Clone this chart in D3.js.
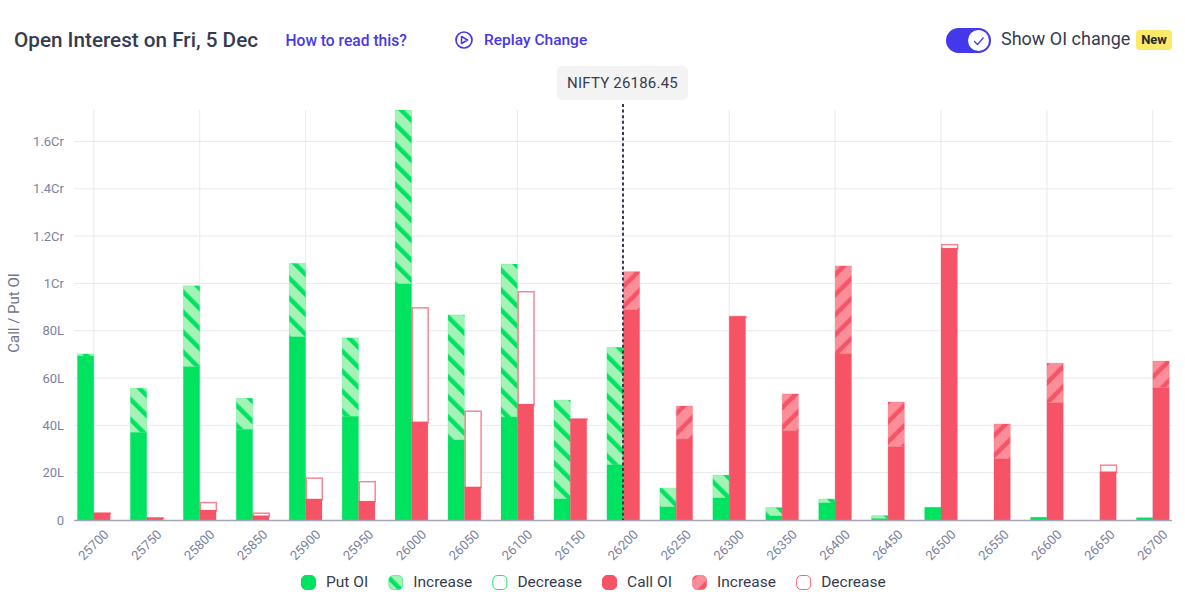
<!DOCTYPE html>
<html><head><meta charset="utf-8">
<script src="https://cdn.jsdelivr.net/npm/d3@7/dist/d3.min.js"></script>
<style>
html,body{margin:0;padding:0;background:#fff;overflow:hidden}
text{font-family:Roboto,sans-serif}
</style></head><body>
<svg id="c" width="1185" height="615" style="display:block"></svg>
<script>
const strikes=[25700,25750,25800,25850,25900,25950,26000,26050,26100,26150,26200,26250,26300,26350,26400,26450,26500,26550,26600,26650,26700];
// values in lakh: solid part, top of the stacked change part, and kind of change
const putBase=[69.3,37,64.8,38.3,77.4,43.8,99.8,33.8,43.5,8.9,23.3,5.5,9.3,1.7,7.2,0.6,5.4,0,1.2,0,1];
const putTop=[70.2,55.7,99,51.5,108.5,77,173.3,86.7,108.2,50.7,73,13.5,19,5.3,8.9,1.9,5.4,0,1.2,0,1];
const callBase=[3,1,4.2,1.8,8.9,8,41.5,14,49,42.7,88.8,34.2,86,37.6,70.2,31,114.9,25.9,49.6,20.4,55.9];
const callTop=[3.2,1.1,7.7,3.2,18,16.5,90,46.3,96.8,43,105,48.2,86.3,53.3,107.4,49.9,116.7,40.6,66.3,23.5,67.2];
const callKind=["dec","dec","dec","dec","dec","dec","dec","dec","dec","dec","inc","inc","dec","inc","inc","inc","dec","inc","inc","dec","inc"];
const yTicks=[0,20,40,60,80,100,120,140,160];
const yTickLabels=["0","20L","40L","60L","80L","1Cr","1.2Cr","1.4Cr","1.6Cr"];
const legendLabels=["Put OI","Increase","Decrease","Call OI","Increase","Decrease"];
const legendStyles=["putSolid","putInc","putDec","callSolid","callInc","callDec"];
const spotStrike=26200, spotLabel="NIFTY 26186.45";

const GREEN="#00e361",GREEN_L="#a3f3b6",RED="#f65366",RED_L="#fc8e99",BLUE="#4737ea",INK="#363b50";
const svg=d3.select("#c");
const defs=svg.append("defs");
function hatch(id,bg,fg,angle,u0){
  const p=defs.append("pattern").attr("id",id).attr("patternUnits","userSpaceOnUse")
    .attr("width",14.14).attr("height",14.14).attr("patternTransform",`rotate(${angle})`);
  p.append("rect").attr("width",14.14).attr("height",14.14).attr("fill",bg);
  p.append("rect").attr("x",u0).attr("width",4.4).attr("height",14.14).attr("fill",fg);
}
hatch("hG",GREEN_L,GREEN,-45,5.66);
hatch("hR",RED_L,RED,45,4.95);
defs.append("clipPath").attr("id","plot").append("rect").attr("x",60).attr("y",110).attr("width",1125).attr("height",412);

const x=d3.scalePoint().domain(strikes).range([93.8,1152.8]);
const y=d3.scaleLinear().domain([0,173.3]).range([520,110]);
const bw=16.4;

// grid
svg.append("g").selectAll("line").data(yTicks.slice(1)).join("line")
  .attr("x1",74).attr("x2",1172).attr("y1",d=>y(d)).attr("y2",d=>y(d))
  .attr("stroke","#e9e9f0");
svg.append("g").selectAll("line").data(strikes.filter((d,i)=>i%2===0)).join("line")
  .attr("x1",d=>x(d)).attr("x2",d=>x(d)).attr("y1",110).attr("y2",520)
  .attr("stroke","#e9e9f0");

const marks=svg.append("g").attr("clip-path","url(#plot)");
function series(base,top,kind,solid,pat,xOff){
  const rows=strikes.map((s,i)=>({s,base:base[i],top:top[i],kind:kind[i]}));
  const X=d=>x(d.s)+xOff;
  marks.append("g").selectAll("rect").data(rows.filter(d=>d.kind==="inc"&&d.top>d.base)).join("rect")
    .attr("x",X).attr("width",bw).attr("y",d=>y(d.top)).attr("height",d=>y(d.base)-y(d.top))
    .attr("fill",`url(#${pat})`).attr("stroke",solid).attr("stroke-opacity",.18);
  marks.append("g").selectAll("rect").data(rows.filter(d=>d.kind==="dec"&&d.top>d.base)).join("rect")
    .attr("x",d=>X(d)+.75).attr("width",bw-.5).attr("y",d=>y(d.top)+.75).attr("height",d=>y(d.base)-y(d.top))
    .attr("fill","#fff").attr("stroke",solid).attr("stroke-opacity",.7).attr("stroke-width",1.5);
  marks.append("g").selectAll("rect").data(rows.filter(d=>d.base>0)).join("rect")
    .attr("x",X).attr("width",bw).attr("y",d=>y(d.base)).attr("height",d=>y(0)-y(d.base))
    .attr("fill",solid).attr("stroke",solid).attr("stroke-opacity",.18);
}
series(putBase,putTop,strikes.map(()=>"inc"),GREEN,"hG",-bw);
series(callBase,callTop,callKind,RED,"hR",0);

// y axis
const yg=svg.append("g").attr("transform","translate(64,0)")
  .call(d3.axisLeft(y).tickValues(yTicks).tickSize(0).tickPadding(0).tickFormat((d,i)=>yTickLabels[i]));
yg.select(".domain").remove();
yg.selectAll("text").attr("font-size",13).attr("fill","#7c829d").style("font-family","Roboto,sans-serif");

// x axis
const xg=svg.append("g").attr("transform","translate(0,520)")
  .call(d3.axisBottom(x).tickSize(0).tickPadding(0).tickFormat(d=>d));
xg.select(".domain").remove();
xg.selectAll("text").attr("font-size",13).attr("fill","#7c829d").attr("text-anchor","end")
  .attr("x",0).attr("y",0).attr("dy","0.35em").attr("transform","translate(12,12) rotate(-45)")
  .style("font-family","Roboto,sans-serif");
svg.append("line").attr("x1",74).attr("x2",1172).attr("y1",520.5).attr("y2",520.5).attr("stroke","#a3a5b7").attr("stroke-width",1.5);

svg.append("text").attr("transform","translate(19,313) rotate(-90)").attr("text-anchor","middle")
  .attr("font-size",15).attr("fill","#6f7389").text("Call / Put OI");

// spot line + label
svg.append("line").attr("x1",623).attr("x2",623).attr("y1",104).attr("y2",520)
  .attr("stroke",INK).attr("stroke-width",2).attr("stroke-dasharray","3 2.6");
svg.append("rect").attr("x",557).attr("y",66).attr("width",131).attr("height",34).attr("rx",5).attr("fill","#f3f3f3");
svg.append("text").attr("x",622.5).attr("y",87.5).attr("text-anchor","middle").attr("font-size",15).attr("letter-spacing",.2).attr("fill",INK).text(spotLabel);

// header
svg.append("text").attr("x",14).attr("y",47).attr("font-size",20.7).attr("font-weight",500).attr("fill",INK).text("Open Interest on Fri, 5 Dec");
svg.append("text").attr("x",285.5).attr("y",46).attr("font-size",15.6).attr("font-weight",500).attr("fill",BLUE).text("How to read this?");
svg.append("circle").attr("cx",464).attr("cy",40).attr("r",8).attr("fill","none").attr("stroke",BLUE).attr("stroke-width",1.7);
svg.append("path").attr("d","M461.5 36.5 L467.5 40 L461.5 43.5 Z").attr("fill","none").attr("stroke",BLUE).attr("stroke-width",1.5).attr("stroke-linejoin","round");
svg.append("text").attr("x",484).attr("y",45).attr("font-size",15.5).attr("font-weight",500).attr("fill",BLUE).text("Replay Change");

// toggle
svg.append("rect").attr("x",946).attr("y",28).attr("width",45).attr("height",25).attr("rx",12.5).attr("fill","#4338ea");
svg.append("circle").attr("cx",978.5).attr("cy",40.5).attr("r",10.5).attr("fill","#fff");
svg.append("path").attr("d","M974 41 L977.5 44.5 L983.5 37.5").attr("fill","none").attr("stroke","#4338ea").attr("stroke-width",1.2);
svg.append("text").attr("x",1001).attr("y",45).attr("font-size",18).attr("fill",INK).text("Show OI change");
svg.append("rect").attr("x",1136).attr("y",30).attr("width",36).attr("height",20).attr("rx",4).attr("fill","#fbe968");
svg.append("text").attr("x",1154).attr("y",44).attr("text-anchor","middle").attr("font-size",13).attr("font-weight",700).attr("fill","#26282f").text("New");

// legend: flowed from measured text widths
let lx=301;
const lg=svg.append("g");
legendLabels.forEach((label,i)=>{
  const st=legendStyles[i], isPut=st.startsWith("put"), c=isPut?GREEN:RED;
  const r=lg.append("rect").attr("x",lx+.5).attr("y",575.5).attr("width",14).attr("height",14).attr("rx",4.5);
  if(st.endsWith("Solid")) r.attr("fill",c).attr("stroke",c);
  else if(st.endsWith("Inc")) r.attr("fill",`url(#${isPut?"hG":"hR"})`).attr("stroke",c).attr("stroke-opacity",.5);
  else r.attr("fill","#fff").attr("stroke",c).attr("stroke-opacity",.9);
  const t=lg.append("text").attr("x",lx+25).attr("y",587).attr("font-size",15.5).attr("fill",INK).text(label);
  lx+=25+t.node().getComputedTextLength()+20.2;
});
</script></body></html>
